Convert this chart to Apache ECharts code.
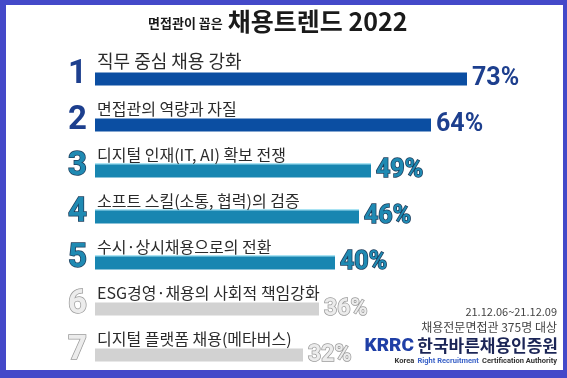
<!DOCTYPE html>
<html>
<head>
<meta charset="utf-8">
<script src="https://cdn.jsdelivr.net/npm/echarts@6/dist/echarts.min.js"></script>
<style>
  html, body { margin: 0; padding: 0; }
  #chart { width: 567px; height: 378px; }
</style>
</head>
<body>
<div id="chart"></div>
<script>
// 면접관이 꼽은 채용트렌드 2022
const categories = [
  '직무 중심 채용 강화',
  '면접관의 역량과 자질',
  '디지털 인재(IT, AI) 확보 전쟁',
  '소프트 스킬(소통, 협력)의 검증',
  '수시·상시채용으로의 전환',
  'ESG경영·채용의 사회적 책임강화',
  '디지털 플랫폼 채용(메타버스)'
]
const ranks = ['1', '2', '3', '4', '5', '6', '7']
const values = [73, 64, 49, 46, 40, 36, 32]

// bars in the picture start a little left of zero
const barOffset = 20

const font = '"Noto Sans CJK KR", "Noto Sans", sans-serif'
const numFont = 'Roboto, "Liberation Sans", sans-serif'

// three colour groups: 1-2 navy, 3-5 teal, 6-7 grey
const tier = i => (i < 2 ? 0 : i < 5 ? 1 : 2)
const barColor = ['#0b4ea2', '#1886b1', '#d2d2d2']
const numStyle = [
  { color: '#1d3f8e' },
  { color: '#1f8ab3', textBorderColor: '#1c3b5a', textBorderWidth: 1.5 },
  { color: '#ececec', textBorderColor: '#9a9a9a', textBorderWidth: 1.5 }
]

const chart = echarts.init(document.getElementById('chart'))

const edge = i => (tier(i) === 1
  ? { shadowColor: '#a9e3f3', shadowOffsetY: -1.5 } // light cyan edge on the teal bars
  : {})

const baseData = categories.map((name, i) => ({
  value: barOffset,
  itemStyle: Object.assign({ color: barColor[tier(i)] }, edge(i)),
  label: { fontSize: i === 0 ? 18 : 16 }
}))

const valueData = values.map((v, i) => ({
  value: v,
  itemStyle: Object.assign({ color: barColor[tier(i)] }, edge(i)),
  label: Object.assign({ fontSize: i < 5 ? 25 : 23 }, numStyle[tier(i)])
}))

chart.setOption({
  backgroundColor: '#4449c9',
  animation: false,
  title: {
    left: 143,
    top: 4,
    text: '{s|면접관이 꼽은} {b|채용트렌드 2022}',
    textStyle: {
      rich: {
        s: { fontFamily: font, fontSize: 13, fontWeight: 'bold', color: '#1a1a1a', padding: [4, 0, 0, 0] },
        b: { fontFamily: font, fontSize: 25, fontWeight: 'bold', color: '#1a1a1a' }
      }
    }
  },
  graphic: [
    {
      type: 'rect',
      shape: { x: 6, y: 5, width: 557, height: 365 },
      style: { fill: '#ffffff' },
      silent: true
    },
    {
      type: 'text',
      x: 557, y: 312,
      style: { text: '21.12.06~21.12.09', align: 'right', verticalAlign: 'middle', fontFamily: font, fontSize: 11, fill: '#444' }
    },
    {
      type: 'text',
      x: 557, y: 327,
      style: { text: '채용전문면접관 375명 대상', align: 'right', verticalAlign: 'middle', fontFamily: font, fontSize: 12, fill: '#444' }
    },
    {
      type: 'text',
      x: 558, y: 346,
      style: {
        text: '{k|KRRC} {n|한국바른채용인증원}',
        align: 'right',
        verticalAlign: 'middle',
        rich: {
          k: { fontFamily: numFont, fontSize: 19, fontWeight: 900, fill: '#1f3fa6' },
          n: { fontFamily: font, fontSize: 17, fontWeight: 'bold', fill: '#1b2556' }
        }
      }
    },
    {
      type: 'text',
      x: 557, y: 361,
      style: {
        text: '{a|Korea} {b|Right Recruitment} {a|Certification Authority}',
        align: 'right',
        verticalAlign: 'middle',
        rich: {
          a: { fontFamily: numFont, fontSize: 7.5, fontWeight: 'bold', fill: '#333' },
          b: { fontFamily: numFont, fontSize: 7.5, fontWeight: 'bold', fill: '#3a62c8' }
        }
      }
    }
  ],
  grid: {
    left: 95,
    top: 56,
    width: 460,
    height: 323
  },
  xAxis: {
    type: 'value',
    min: 0,
    max: 115,
    show: false
  },
  yAxis: {
    type: 'category',
    inverse: true,
    data: categories,
    axisLine: { show: false },
    axisTick: { show: false },
    axisLabel: {
      margin: 8,
      formatter: (value, index) => `{r${tier(index)}|${ranks[index]}}`,
      rich: {
        r0: Object.assign({ fontFamily: numFont, fontSize: 33, fontWeight: 'bold', padding: [0, 0, 8, 0] }, numStyle[0]),
        r1: Object.assign({ fontFamily: numFont, fontSize: 33, fontWeight: 'bold', padding: [0, 0, 8, 0] }, numStyle[1]),
        r2: Object.assign({ fontFamily: numFont, fontSize: 33, fontWeight: 'bold', padding: [0, 0, 8, 0] }, numStyle[2])
      }
    }
  },
  series: [
    {
      name: 'base',
      type: 'bar',
      stack: 'total',
      barWidth: 13,
      data: baseData,
      label: {
        show: true,
        position: [2, -2],
        align: 'left',
        verticalAlign: 'bottom',
        formatter: '{b}',
        fontFamily: font,
        color: '#2b2b2b'
      }
    },
    {
      name: '응답률',
      type: 'bar',
      stack: 'total',
      barWidth: 13,
      data: valueData,
      label: {
        show: true,
        position: 'right',
        distance: 5,
        formatter: '{c}%',
        fontFamily: numFont,
        fontWeight: 'bold'
      }
    }
  ]
})
</script>
</body>
</html>
